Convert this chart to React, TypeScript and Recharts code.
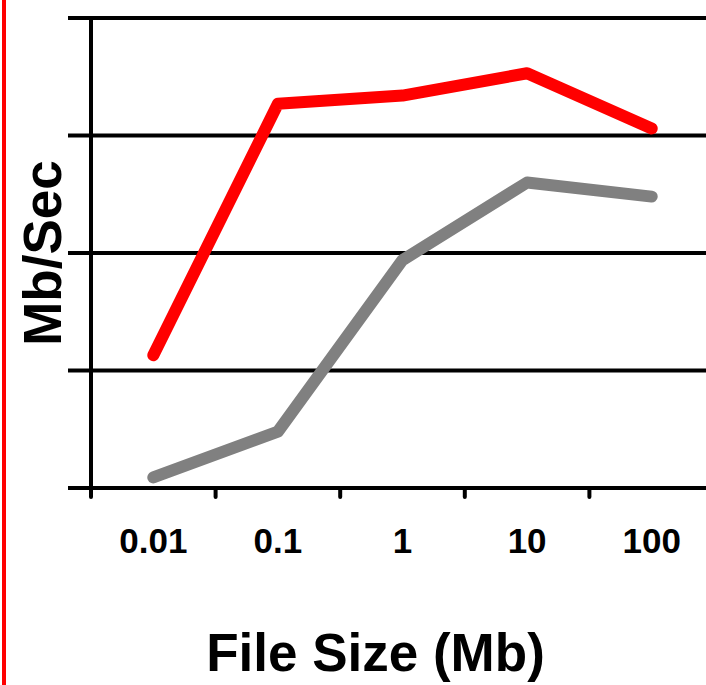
import React from 'react';
import { LineChart, Line, XAxis, YAxis, CartesianGrid, Label } from 'recharts';

const categories = ['0.01', '0.1', '1', '10', '100'];
const redSeries = [1.13, 3.27, 3.34, 3.53, 3.06];
const graySeries = [0.09, 0.48, 1.94, 2.6, 2.48];
const yTicks = [0, 1, 2, 3, 4];

const data = categories.map((c, i) => ({ size: c, red: redSeries[i], gray: graySeries[i] }));

const FONT = '"Liberation Sans", Arial, Helvetica, sans-serif';

const BandTick = (props: any) => {
  const { x, y, payload } = props;
  const off = payload && typeof payload.offset === 'number' && payload.offset > 0 ? payload.offset : 62;
  return (
    <g>
      <line x1={x - off} y1={y - 9} x2={x - off} y2={y} stroke="#000" strokeWidth={4} strokeLinecap="round" />
      <text x={x} y={y + 56} textAnchor="middle" fontFamily={FONT} fontWeight="bold" fontSize={35} fill="#000">
        {payload.value}
      </text>
    </g>
  );
};

const EmptyTick = () => <g />;

export default function App() {
  return (
    <div style={{ position: 'absolute', left: 0, top: 0, width: 706, height: 685, overflow: 'hidden', background: '#fff' }}>
      <div style={{ position: 'absolute', left: 2, top: 0, width: 4, height: 685, background: '#ff0000' }} />
      <LineChart width={714} height={685} data={data} margin={{ top: 18, right: 0, left: 0, bottom: 0 }}>
        <CartesianGrid horizontal={true} vertical={false} stroke="#000" strokeWidth={4} />
        <XAxis
          dataKey="size"
          scale="band"
          height={197}
          axisLine={{ stroke: '#000', strokeWidth: 4 }}
          tickLine={false}
          tickSize={9}
          tickMargin={0}
          tick={<BandTick />}
          interval={0}
        >
          <Label
            value="File Size (Mb)"
            position="center"
            dx={-27}
            dy={66}
            style={{ fontFamily: FONT, fontWeight: 'bold', fontSize: 53, fill: '#000' }}
          />
        </XAxis>
        <YAxis
          width={91}
          domain={[0, 4]}
          ticks={yTicks}
          tick={<EmptyTick />}
          tickSize={23}
          interval={0}
          axisLine={{ stroke: '#000', strokeWidth: 4 }}
          tickLine={{ stroke: '#000', strokeWidth: 4 }}
        >
          <Label
            value="Mb/Sec"
            angle={-90}
            position="center"
            dx={-3}
            style={{ fontFamily: FONT, fontWeight: 'bold', fontSize: 53, fill: '#000' }}
          />
        </YAxis>
        <Line dataKey="red" stroke="#ff0000" strokeWidth={12} strokeLinecap="round" strokeLinejoin="round" dot={false} isAnimationActive={false} />
        <Line dataKey="gray" stroke="#808080" strokeWidth={12} strokeLinecap="round" strokeLinejoin="round" dot={false} isAnimationActive={false} />
      </LineChart>
    </div>
  );
}
